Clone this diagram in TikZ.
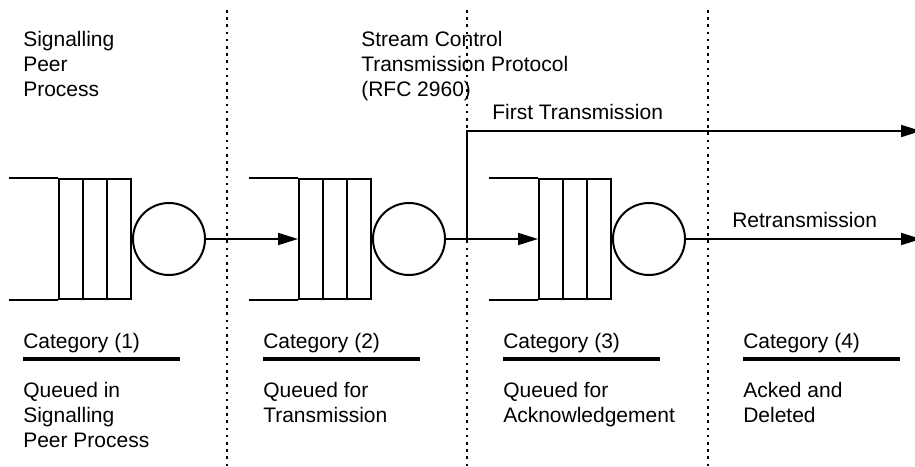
\documentclass[tikz,border=0pt]{standalone}
\usepackage{fontspec}
\setmainfont{Liberation Sans}
\usepackage{tikz}
\usetikzlibrary{positioning, arrows, arrows.meta}

\tikzset{
  txt/.style={anchor=base west, inner sep=0pt, align=left,
    font=\fontsize{15.75pt}{18.75pt}\selectfont},
  qbox/.style={draw, line width=1.5pt, minimum width=54pt, minimum height=90pt, inner sep=0pt},
  srvcircle/.style={draw, circle, line width=1.5pt, minimum size=54pt, inner sep=0pt},
  flow/.style={line width=1.5pt, -{Triangle[length=15pt, width=9pt]}},
  colline/.style={line width=2pt, dash pattern=on 2pt off 3.4pt}
}

\begin{document}
\begin{tikzpicture}[x=0.75pt, y=-0.75pt]
\useasboundingbox (0,0) rectangle (915,467);

% column borders
\foreach \c in {227, 467, 708} {
  \draw[colline] (\c,10) -- (\c,467);
}

% the three queues
\foreach \i in {1,2,3} {
  \pgfmathsetmacro\dx{240*(\i-1)}
  \node[qbox] (q\i) at (95+\dx,239) {};
  \draw[line width=1.5pt] ([xshift=-9pt]q\i.north) -- ([xshift=-9pt]q\i.south);
  \draw[line width=1.5pt] ([xshift=9pt]q\i.north) -- ([xshift=9pt]q\i.south);
  \draw[line width=1.5pt] ([xshift=-36.75pt]q\i.north west) -- (q\i.north west);
  \draw[line width=1.5pt] ([xshift=-36.75pt]q\i.south west) -- (q\i.south west);
  \node[srvcircle, right=0pt of q\i] (s\i) {};
}

\coordinate (br) at (467,239);
\coordinate (ft) at (921,131);
\coordinate (rt) at (921,239);

\draw[flow] (s1.east) -- (q2.west);
\draw[line width=1.5pt] (s2.east) -- (br);
\draw[flow] (br) -- (q3.west);
\draw[flow] (br) |- (ft);
\draw[flow] (s3.east) -- (rt);

% multi-line texts sit on their last line
\node[txt] (peer) at (23,97) {Signalling\\Peer\\Process};
\node[txt] (sctp) at (361,97) {Stream Control\\Transmission Protocol\\(RFC 2960)};
\node[txt] (first) at (492,120) {First Transmission};
\node[txt] (retx) at (732,227) {Retransmission};

% categories
\node[txt] (cat1) at (23,348) {Category (1)};
\node[txt] (cat2) at (263,348) {Category (2)};
\node[txt] (cat3) at (503,348) {Category (3)};
\node[txt] (cat4) at (743,348) {Category (4)};
\foreach \i in {1,2,3,4} {
  \pgfmathsetmacro\dx{240*(\i-1)}
  \draw[line width=2.4pt] (23+\dx,359) -- (180+\dx,359);
}

\node[txt] (desc1) at (23,447) {Queued in\\Signalling\\Peer Process};
\node[txt] (desc2) at (263,422) {Queued for\\Transmission};
\node[txt] (desc3) at (503,422) {Queued for\\Acknowledgement};
\node[txt] (desc4) at (743,422) {Acked and\\Deleted};

\end{tikzpicture}
\end{document}
